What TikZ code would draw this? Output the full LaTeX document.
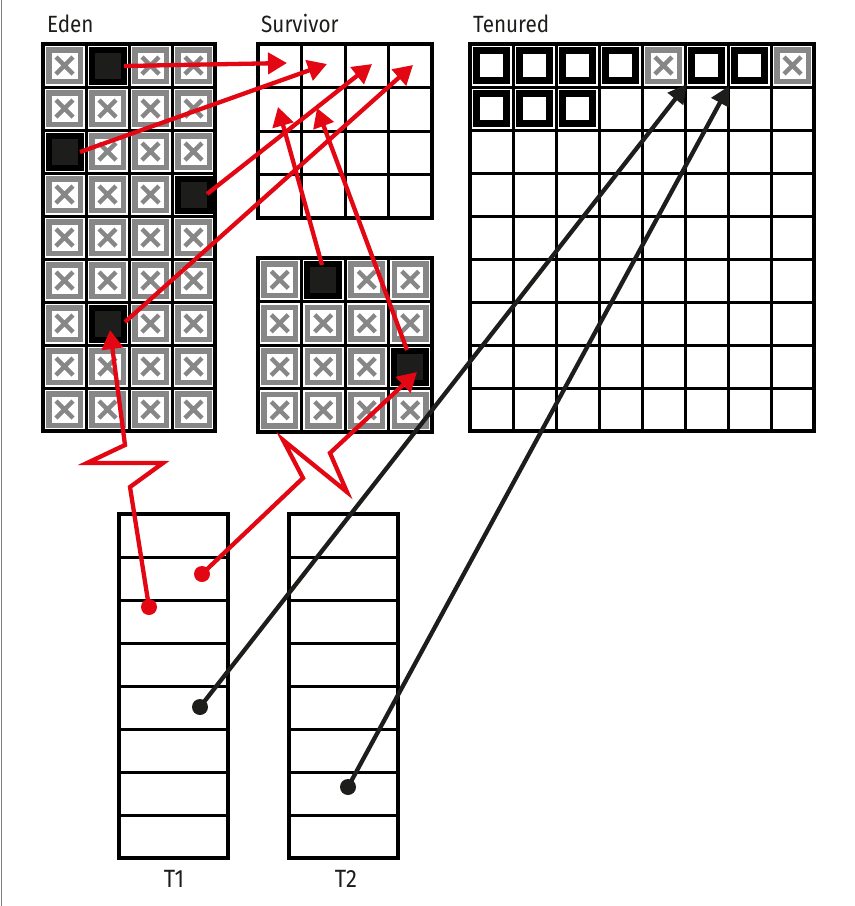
\documentclass[tikz,border=0pt]{standalone}
\usepackage{fontspec}
\setmainfont{Fira Sans}[FakeStretch=0.88]
\usetikzlibrary{arrows.meta}
\definecolor{myred}{RGB}{227,6,19}
\definecolor{mygray}{RGB}{135,135,135}
\definecolor{mydark}{RGB}{29,29,27}
\tikzset{
  gridframe/.style={draw=black, line width=4.5pt},
  gridline/.style={draw=black, line width=3pt},
  redarrow/.style={draw=myred, line width=4.3pt, line join=miter, -{Triangle[length=19pt,width=21pt]}},
  blkarrow/.style={draw=mydark, line width=4.3pt, -{Triangle[length=19pt,width=19pt]}},
  lbl/.style={font=\fontsize{23.5}{26}\selectfont, text=mydark, inner sep=0pt},
  tlbl/.style={font=\fontsize{25}{28}\selectfont, text=mydark, inner sep=0pt},
  xcell/.pic={
    \draw[mygray, line width=5.5pt] (-15.75,-15.75) rectangle (15.75,15.75);
    \draw[mygray, line width=4.5pt] (-8.5,-8.5)--(8.5,8.5) (-8.5,8.5)--(8.5,-8.5);
  },
  darkcell/.pic={
    \fill[black] (-19,-19) rectangle (19,19);
    \fill[mydark] (-13,-13) rectangle (13,13);
  },
  boxcell/.pic={
    \draw[black, line width=6.5pt] (-15,-15) rectangle (15,15);
  }
}
\begin{document}
\begin{tikzpicture}[x=1pt,y=-1pt]
\useasboundingbox (0,0) rectangle (855,906);
\fill[white] (0,0) rectangle (855,906);
\draw[gray, line width=1.5pt] (1.5,0)--(1.5,906);

% labels
\node[lbl, anchor=base west] (leden) at (47,32) {Eden};
\node[lbl, anchor=base west] (lsurv) at (261,32) {Survivor};
\node[lbl, anchor=base west] (lten) at (473,32) {Tenured};
\node[tlbl, anchor=base] (lt1) at (174,887) {T1};
\node[tlbl, anchor=base] (lt2) at (346,887) {T2};

% Eden grid 4x9
\foreach \i in {1,2,3} \draw[gridline] (43+43*\i,44)--++(0,387);
\foreach \j in {1,...,8} \draw[gridline] (43,44+43*\j)--++(172,0);
% Eden cells
\foreach \c/\r in {0/0,2/0,3/0, 0/1,1/1,2/1,3/1, 1/2,2/2,3/2, 0/3,1/3,2/3,
  0/4,1/4,2/4,3/4, 0/5,1/5,2/5,3/5, 0/6,2/6,3/6, 0/7,1/7,2/7,3/7, 0/8,1/8,2/8,3/8}
  \pic at (64.5+43*\c,65.5+43*\r) {xcell};
\foreach \c/\r in {1/0,0/2,3/3,1/6}
  \pic at (64.5+43*\c,65.5+43*\r) {darkcell};
\draw[gridframe] (43,44) rectangle (215,431);

% Survivor top 4x4 empty
\foreach \i in {1,2,3} {
  \draw[gridline] (258+43.5*\i,44)--++(0,174);
  \draw[gridline] (258,44+43.5*\i)--++(174,0);
}
\draw[gridframe] (258,44) rectangle (432,218);

% Survivor bottom 4x4
\foreach \i in {1,2,3} {
  \draw[gridline] (258+43.5*\i,258)--++(0,174);
  \draw[gridline] (258,258+43.5*\i)--++(174,0);
}
\foreach \c/\r in {0/0,2/0,3/0, 0/1,1/1,2/1,3/1, 0/2,1/2,2/2, 0/3,1/3,2/3,3/3}
  \pic at (279.75+43.5*\c,279.75+43.5*\r) {xcell};
\foreach \c/\r in {1/0,3/2}
  \pic at (279.75+43.5*\c,279.75+43.5*\r) {darkcell};
\draw[gridframe] (258,258) rectangle (432,432);

% Tenured 8x9
\foreach \i in {1,...,7} \draw[gridline] (470+43*\i,44)--++(0,387);
\foreach \j in {1,...,8} \draw[gridline] (470,44+43*\j)--++(344,0);
\foreach \c/\r in {0/0,1/0,2/0,3/0,5/0,6/0,0/1,1/1,2/1}
  \pic at (491.5+43*\c,65.5+43*\r) {boxcell};
\foreach \c/\r in {4/0,7/0}
  \pic at (491.5+43*\c,65.5+43*\r) {xcell};
\draw[gridframe] (470,44) rectangle (814,431);

% T1, T2
\foreach \x in {119,289} {
  \foreach \j in {1,...,7} \draw[gridline] (\x,514+43*\j)--++(109,0);
  \draw[gridframe] (\x,514) rectangle (\x+109,858);
}

% coordinates
\coordinate (e1) at (124,66);   \coordinate (s1) at (287,63);
\coordinate (e2) at (80,152);   \coordinate (s2) at (327,64);
\coordinate (e3) at (207,194);  \coordinate (s3) at (372,64);
\coordinate (e4) at (125,322);  \coordinate (s4) at (413,65);
\coordinate (b1) at (322,265);  \coordinate (s5) at (278,107);
\coordinate (b2) at (407,350);  \coordinate (s6) at (317,108);
\coordinate (t1a) at (149,607);
\coordinate (t1b) at (202,574);
\coordinate (t1c) at (200,707);
\coordinate (t2a) at (348,787);
\coordinate (ea) at (110,330);
\coordinate (ba) at (417,372);
\coordinate (ta) at (687,84);
\coordinate (tb) at (729,86);

% red arrows
\draw[redarrow] (e1) -- (s1);
\draw[redarrow] (e2) -- (s2);
\draw[redarrow] (e3) -- (s3);
\draw[redarrow] (e4) -- (s4);
\draw[redarrow] (b1) -- (s5);
\draw[redarrow] (b2) -- (s6);
\draw[redarrow] (t1a) -- (130,487) -- (163,463) -- (87,463) -- (125,445) -- (ea);
\draw[redarrow] (t1b) -- (303,478) -- (283,440) -- (347,492) -- (330,453) -- (ba);
\fill[myred] (t1a) circle (8);
\fill[myred] (t1b) circle (8);

% black arrows
\draw[blkarrow] (t1c) -- (ta);
\draw[blkarrow] (t2a) -- (tb);
\fill[mydark] (t1c) circle (8);
\fill[mydark] (t2a) circle (8);
\end{tikzpicture}
\end{document}
